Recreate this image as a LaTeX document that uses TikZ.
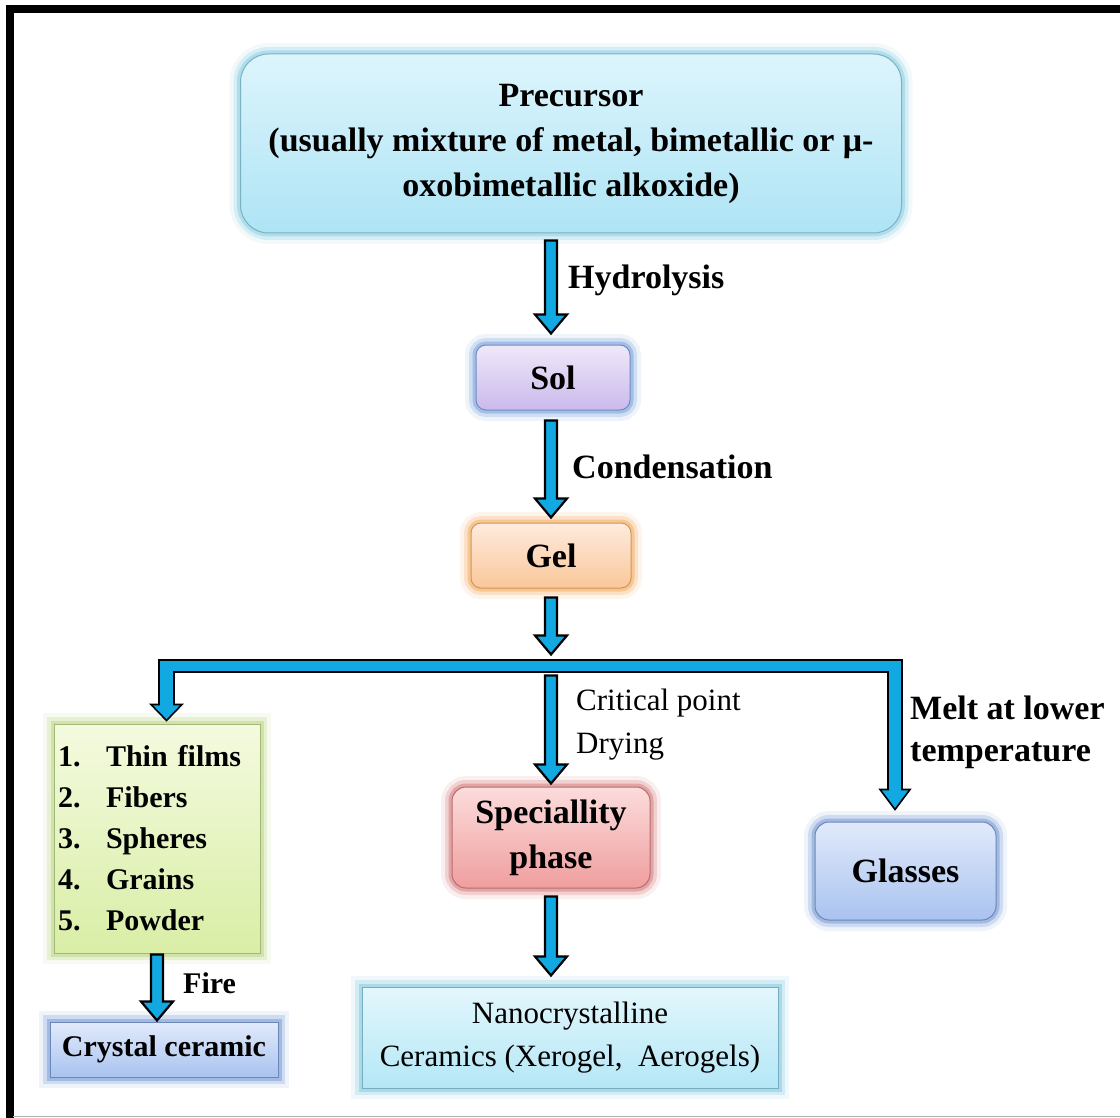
\documentclass[tikz,border=0pt]{standalone}
\usepackage{fontspec}
\setmainfont{Liberation Serif}
\usetikzlibrary{calc}
\definecolor{arrowblue}{HTML}{12A8E2}
\definecolor{preT}{HTML}{DDF5FC}\definecolor{preB}{HTML}{AEE4F5}\definecolor{preG}{HTML}{8FD0E6}
\definecolor{solT}{HTML}{EFE8FA}\definecolor{solB}{HTML}{CBB9EC}\definecolor{solG}{HTML}{7FA6DE}
\definecolor{gelT}{HTML}{FEEBDD}\definecolor{gelB}{HTML}{FAC79A}\definecolor{gelG}{HTML}{F5B06A}
\definecolor{lstT}{HTML}{F4FADF}\definecolor{lstB}{HTML}{D9EEA6}\definecolor{lstG}{HTML}{BFD88A}
\definecolor{bluT}{HTML}{E1EAFB}\definecolor{bluB}{HTML}{A9C3EF}\definecolor{bluG}{HTML}{7E9FD8}
\definecolor{spcT}{HTML}{FCDCDC}\definecolor{spcB}{HTML}{EF9E9E}\definecolor{spcG}{HTML}{D98080}
\definecolor{nanT}{HTML}{E3F7FC}\definecolor{nanB}{HTML}{B4E7F6}\definecolor{nanG}{HTML}{8ACDE0}
\tikzset{
  box/.style={inner sep=0pt, align=center},
  glow/.style={preaction={draw=#1, line width=22pt, opacity=0.12},
               preaction={draw=#1, line width=14pt, opacity=0.28},
               preaction={draw=#1, line width=7pt, opacity=0.55},
               draw=#1!85!black, line width=1pt},
  bigbf/.style={font=\fontsize{34}{45}\selectfont\bfseries},
  midbf/.style={font=\fontsize{30}{41}\selectfont\bfseries},
  reg/.style={font=\fontsize{31}{43}\selectfont},
  blk/.style={draw=black, line width=2.2pt, fill=arrowblue, line join=miter},
  lbl/.style={inner sep=0pt, anchor=west}
}
\newcommand{\blockdown}[2]{%
  \draw[blk] let \p1=(#1), \p2=(#2) in
   (\x1-6pt,\y1) -- (\x1+6pt,\y1) -- (\x1+6pt,\y2+19pt) -- (\x1+16pt,\y2+19pt) -- (\x1,\y2)
   -- (\x1-16pt,\y2+19pt) -- (\x1-6pt,\y2+19pt) -- cycle;}
\begin{document}
\begin{tikzpicture}[x=1pt,y=-1pt]
\useasboundingbox (0,0) rectangle (1120,1118);
\clip (0,0) rectangle (1120,1118);
\fill[white] (0,0) rectangle (1120,1118);
% frame
\draw[line width=8pt] (1130,9) -- (9.5,9) -- (9.5,1130);
\draw[gray!60, line width=1pt] (13,1116.5) -- (1120,1116.5);

% boxes
\node[box, bigbf, glow=preG, top color=preT, bottom color=preB, rounded corners=28pt,
      minimum width=661pt, minimum height=179pt] (pre) at (571,143.5)
  {Precursor\\(usually mixture of metal, bimetallic or μ-\\oxobimetallic alkoxide)};
\node[box, bigbf, glow=solG, top color=solT, bottom color=solB, rounded corners=10pt,
      minimum width=154pt, minimum height=65pt] (sol) at (553,377.5) {Sol};
\node[box, bigbf, glow=gelG, top color=gelT, bottom color=gelB, rounded corners=10pt,
      minimum width=160pt, minimum height=65pt] (gel) at (551,555.5) {Gel};
\node[box, midbf, glow=lstG, top color=lstT, bottom color=lstB, align=left,
      text width=198pt, inner xsep=8pt, inner xsep=4pt, minimum height=229pt] (list) at (157,838.5)
  {\makebox[48pt][l]{1.}Thin films\\\makebox[48pt][l]{2.}Fibers\\\makebox[48pt][l]{3.}Spheres\\\makebox[48pt][l]{4.}Grains\\\makebox[48pt][l]{5.}Powder};
\node[box, midbf, glow=bluG, top color=bluT, bottom color=bluB,
      minimum width=228pt, minimum height=55pt] (cryst) at (164,1049.5) {Crystal ceramic};
\node[box, bigbf, glow=spcG, top color=spcT, bottom color=spcB, rounded corners=14pt,
      minimum width=198pt, minimum height=101pt] (spec) at (551,837.5) {Speciallity\\phase};
\node[box, bigbf, glow=bluG, top color=bluT, bottom color=bluB, rounded corners=14pt,
      minimum width=181pt, minimum height=98pt] (glass) at (905.5,871) {Glasses};
\node[box, reg, glow=nanG, top color=nanT, bottom color=nanB,
      minimum width=416pt, minimum height=101pt] (nano) at (570,1037.5)
  {Nanocrystalline\\Ceramics (Xerogel,\ \ Aerogels)};

% vertical arrows
\blockdown{$(pre.south -| gel.north)+(0,7)$}{$(sol.north -| gel.north)+(0,-11)$}
\blockdown{$(sol.south -| gel.north)+(0,10)$}{$(gel.north)+(0,-5)$}
\blockdown{$(gel.south)+(0,9)$}{$(gel.south)+(0,66)$}

% distribution bar
\coordinate (bl) at (166.5,666);
\coordinate (br) at (895,666);
\draw[blk, line width=1.6pt] let \p1=(bl), \p2=(br), \p3=($(bl |- list.north)+(0,-3)$), \p4=($(br |- glass.north)+(0,-12)$) in
  (\x1-7.5pt,\y1+6pt) -- (\x2+7pt,\y1+6pt) -- (\x2+7pt,\y4+20pt) -- (\x2+15pt,\y4+20pt) -- (\x2,\y4)
  -- (\x2-15pt,\y4+20pt) -- (\x2-7pt,\y4+20pt) -- (\x2-7pt,\y1-6pt) -- (\x1+7.5pt,\y1-6pt)
  -- (\x1+7.5pt,\y3+16pt) -- (\x1+15.5pt,\y3+16pt) -- (\x1,\y3) -- (\x1-15.5pt,\y3+16pt)
  -- (\x1-7.5pt,\y3+16pt) -- cycle;

\blockdown{$(spec.north)+(0,-111)$}{$(spec.north)+(0,-3)$}
\blockdown{$(spec.south)+(0,8)$}{$(spec.south -| spec.north)+(0,87)$}
\blockdown{$(list.south)+(0,1)$}{$(list.south)+(0,67)$}

% labels
\node[lbl, bigbf] (lhyd) at (568,280) {Hydrolysis};
\node[lbl, bigbf] (lcon) at (572,467) {Condensation};
\node[lbl, reg, align=left] (lcrit) at (576,724.5) {Critical point\\Drying};
\node[lbl, bigbf, align=left, font=\fontsize{34}{42}\selectfont\bfseries] (lmelt) at (910,732.5) {Melt at lower\\temperature};
\node[lbl, midbf] (lfire) at (183,983) {Fire};
\end{tikzpicture}
\end{document}
